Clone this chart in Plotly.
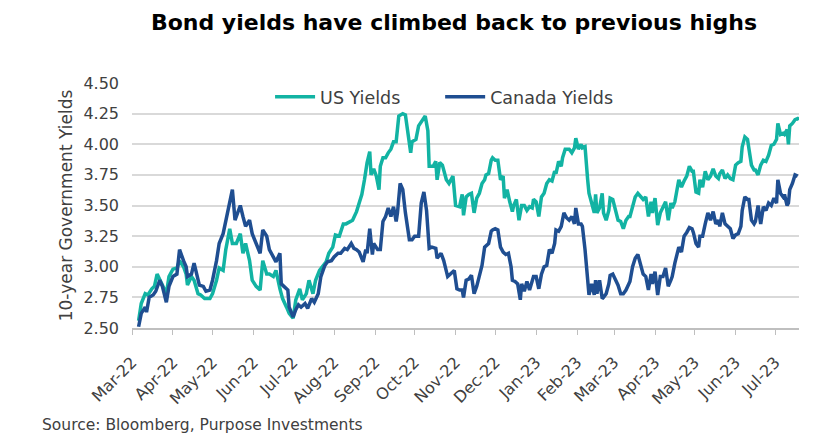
import pandas as pd
import plotly.graph_objects as go

# Day offsets counted from the first day of the axis (1 Mar 2022), values in %
start_date = pd.Timestamp("2022-03-01")

us_days = [5, 7, 10, 12, 15, 17, 19, 21, 23, 26, 28, 31, 34, 36, 39, 41, 42, 45, 47, 50,
           52, 55, 59, 61, 64, 66, 69, 71, 74, 76, 79, 82,
           84, 86, 89, 91, 94, 97, 99, 102, 104, 107, 109, 112, 114, 117, 119, 122, 124, 127,
           129, 132, 134, 137, 139, 142, 144, 147, 149, 152, 154, 157, 160, 162,
           167, 170, 172, 174, 176, 178, 180, 181, 183, 185, 187, 188, 190, 192, 194, 196,
           198, 200, 202, 205, 207, 209, 211, 212, 215, 217, 220, 222, 224, 225, 228, 230,
           231, 233, 235, 238, 240, 243, 245,
           248, 250, 251, 253, 255, 257, 259, 261, 263, 265, 267, 268, 270, 272, 273, 275,
           277, 279, 281, 282, 284, 286, 288, 289, 291, 293, 295, 297, 299, 301, 303, 304,
           306, 308, 310, 312, 314, 316, 318, 320, 321, 323, 325, 326, 328,
           331, 333, 335, 336, 338, 340, 341, 343, 345, 346, 348, 350, 351, 352, 354, 356,
           357, 359, 361, 362, 364, 366, 368, 370, 372, 374, 376, 377, 379, 381, 383, 385,
           387, 389, 391, 393, 394, 396, 398, 400, 402, 404, 406, 408, 409, 411,
           414, 416, 418, 420, 422, 424, 425, 427, 429, 430, 432, 434, 436, 438, 440, 442,
           444, 445, 447, 449, 451, 453, 455, 457, 459, 461, 462, 464, 466, 467, 469, 471,
           472, 474, 476, 478, 480, 482, 484, 486, 488, 489, 491, 493, 494, 496, 497, 498,
           500, 502, 504, 505]
us_yields = [2.56, 2.70, 2.78, 2.77, 2.82, 2.84, 2.94, 2.90, 2.85, 2.78, 2.92, 2.98, 2.99, 3.05, 3.00, 2.94, 2.85, 2.92, 2.89, 2.78,
             2.77, 2.74, 2.74, 2.78, 2.89, 2.99, 2.97, 3.14, 3.31, 3.19, 3.19, 3.27,
             3.11, 3.19, 3.05, 2.89, 2.84, 2.81, 3.05, 2.94, 2.94, 2.92, 2.97, 2.82, 2.74, 2.67, 2.62, 2.58, 2.73, 2.82,
             2.73, 2.78, 2.89, 2.78, 2.89, 2.97, 3.00, 3.04, 3.11, 3.16, 3.26, 3.25, 3.35, 3.35,
             3.38, 3.45, 3.52, 3.59, 3.71, 3.85, 3.94, 3.75, 3.80, 3.74, 3.63, 3.82, 3.89, 3.89, 3.93, 3.96,
             4.02, 4.02, 4.23, 4.25, 4.24, 4.09, 3.93, 4.02, 4.04, 4.15, 4.20, 4.23, 4.11, 3.82, 3.82, 3.86,
             3.71, 3.85, 3.83, 3.71, 3.68, 3.74, 3.50,
             3.49, 3.59, 3.42, 3.57, 3.59, 3.60, 3.44, 3.56, 3.60, 3.68, 3.71, 3.75, 3.76, 3.87, 3.89, 3.87,
             3.87, 3.71, 3.74, 3.56, 3.63, 3.53, 3.45, 3.50, 3.55, 3.38, 3.50, 3.50, 3.46, 3.49, 3.48, 3.55,
             3.53, 3.41, 3.57, 3.60, 3.68, 3.71, 3.70, 3.78, 3.76, 3.86, 3.82, 3.89, 3.96,
             3.96, 3.93, 3.97, 4.05, 3.96, 4.00, 3.97, 3.98, 3.71, 3.60, 3.52, 3.44, 3.59, 3.44, 3.48, 3.60,
             3.44, 3.38, 3.46, 3.56, 3.55, 3.45, 3.38, 3.37, 3.31, 3.38, 3.41, 3.41, 3.48, 3.57, 3.60, 3.57,
             3.55, 3.57, 3.41, 3.53, 3.44, 3.56, 3.34, 3.44, 3.48, 3.53, 3.38, 3.52, 3.48, 3.53,
             3.71, 3.65, 3.70, 3.74, 3.82, 3.78, 3.78, 3.61, 3.60, 3.71, 3.65, 3.78, 3.71, 3.74, 3.80, 3.74,
             3.72, 3.76, 3.79, 3.72, 3.75, 3.72, 3.71, 3.83, 3.85, 3.86, 3.98, 4.06, 4.04, 3.98, 3.83, 3.79,
             3.79, 3.75, 3.83, 3.87, 3.86, 3.91, 3.99, 4.00, 4.04, 4.17, 4.08, 4.09, 4.08, 4.12, 4.00, 4.15,
             4.17, 4.20, 4.21, 4.20]

ca_days = [5, 7, 10, 11, 13, 16, 18, 21, 23, 26, 28, 31, 34, 36, 39, 41, 42, 45, 47, 49,
           51, 54, 56, 59, 61, 64, 66, 69, 71, 74, 76, 78, 80, 82,
           84, 86, 89, 91, 94, 97, 99, 102, 104, 107, 109, 112, 113, 115, 118, 119, 122, 124,
           126, 128, 131, 133, 136, 138, 141, 143, 146, 148, 151, 153, 156, 158, 161, 163,
           166, 168,
           170, 172, 175, 177, 178, 180, 182, 183, 186, 188, 190, 192, 194, 196, 198, 200,
           201, 203, 205, 207, 210, 212, 214, 217, 219, 221, 223, 225, 227, 230, 231, 234,
           236, 239, 241, 244, 246,
           248, 250, 251, 253, 255, 257, 259, 261, 263, 265, 267, 268, 270, 272, 273, 275,
           277, 279, 281, 283, 285, 287, 288, 290, 292, 294, 295, 297, 299, 301, 303, 304,
           306, 308, 310, 312, 314, 316, 318, 320, 321, 323, 325, 327, 329,
           331, 333, 335, 336, 338, 340, 341, 343, 345, 346, 348, 350, 351, 352, 354, 356,
           357, 359, 361, 362, 364, 366, 368, 370, 372, 374, 376, 377, 379, 381, 383, 385,
           387, 389, 391, 393, 394, 396, 398, 400, 402, 404, 406, 408, 409, 411,
           414, 416, 418, 420, 422, 424, 425, 427, 429, 430, 432, 434, 436, 438, 440, 442,
           444, 445, 447, 449, 451, 453, 455, 457, 459, 461, 462, 464, 466, 467, 469, 471,
           472, 474, 476, 478, 480, 482, 484, 486, 488, 489, 491, 493, 494, 496, 497, 498,
           500, 502, 504]
ca_yields = [2.51, 2.62, 2.67, 2.63, 2.75, 2.77, 2.80, 2.89, 2.84, 2.71, 2.84, 2.92, 2.94, 3.14, 3.05, 3.00, 2.92, 2.94, 3.03, 2.94,
             2.85, 2.84, 2.80, 2.81, 2.89, 3.05, 3.19, 3.27, 3.38, 3.55, 3.63, 3.38, 3.45, 3.50,
             3.41, 3.33, 3.38, 3.27, 3.19, 3.11, 3.30, 3.25, 3.14, 3.08, 3.04, 3.11, 2.86, 2.84, 2.81, 2.67, 2.59, 2.65,
             2.69, 2.67, 2.70, 2.66, 2.74, 2.71, 2.78, 2.92, 3.01, 3.04, 3.05, 3.08, 3.11, 3.11, 3.15, 3.14,
             3.19, 3.15,
             3.14, 3.12, 3.04, 3.14, 3.11, 3.31, 3.10, 3.19, 3.14, 3.14, 3.37, 3.41, 3.48, 3.41, 3.49, 3.37,
             3.44, 3.68, 3.63, 3.44, 3.22, 3.22, 3.25, 3.25, 3.52, 3.61, 3.46, 3.15, 3.16, 3.15, 3.07, 3.11,
             3.05, 2.92, 2.94, 2.97, 2.82,
             2.81, 2.81, 2.75, 2.89, 2.90, 2.93, 2.78, 2.84, 2.92, 3.01, 3.16, 3.17, 3.19, 3.29, 3.30, 3.31,
             3.30, 3.16, 3.12, 3.10, 3.11, 3.00, 2.89, 2.88, 2.86, 2.73, 2.86, 2.80, 2.88, 2.81, 2.89, 2.92,
             2.92, 2.82, 2.94, 3.00, 3.01, 3.14, 3.11, 3.19, 3.30, 3.29, 3.33, 3.44, 3.40,
             3.38, 3.41, 3.35, 3.48, 3.35, 3.35, 3.33, 3.14, 2.92, 2.77, 2.86, 2.77, 2.89, 2.78, 2.89, 2.74,
             2.75, 2.78, 2.86, 2.93, 2.94, 2.89, 2.85, 2.78, 2.78, 2.81, 2.86, 2.88, 3.00, 3.07, 3.10, 3.01,
             2.94, 2.92, 2.81, 2.94, 2.86, 2.96, 2.77, 2.92, 2.92, 2.99, 2.84, 2.89, 2.92, 3.03,
             3.16, 3.12, 3.25, 3.28, 3.32, 3.31, 3.28, 3.19, 3.16, 3.25, 3.25, 3.35, 3.44, 3.38, 3.45, 3.35,
             3.38, 3.33, 3.44, 3.35, 3.33, 3.31, 3.23, 3.26, 3.27, 3.33, 3.46, 3.57, 3.55, 3.55, 3.38, 3.35,
             3.37, 3.50, 3.35, 3.49, 3.46, 3.52, 3.50, 3.56, 3.52, 3.71, 3.60, 3.57, 3.59, 3.50, 3.52, 3.63,
             3.68, 3.75, 3.74]

us_dates = start_date + pd.to_timedelta(us_days, unit="D")
ca_dates = start_date + pd.to_timedelta(ca_days, unit="D")

font_name = "DejaVu Sans"
text_grey = "#404040"

fig = go.Figure()
fig.add_trace(go.Scatter(x=us_dates, y=us_yields, mode="lines", name="US Yields",
                         line=dict(color="#12b3a3", width=3.5), legend="legend", showlegend=True))
fig.add_trace(go.Scatter(x=ca_dates, y=ca_yields, mode="lines", name="Canada Yields",
                         line=dict(color="#1f4e91", width=3.5), legend="legend2", showlegend=True))

legend_style = dict(orientation="h", xanchor="left", y=0.943, yanchor="middle",
                    bgcolor="rgba(255,255,255,0)", font=dict(size=17.5, color=text_grey),
                    itemwidth=40, visible=True)

fig.update_layout(
    width=827, height=446, showlegend=True,
    paper_bgcolor="white", plot_bgcolor="white",
    margin=dict(l=132, r=28, t=83, b=118, autoexpand=False),
    font=dict(family=font_name, color=text_grey),
    title=dict(text="<b>Bond yields have climbed back to previous highs</b>",
               x=0.549, xanchor="center", y=0.951, yanchor="middle",
               font=dict(size=22, color="black", family=font_name)),
    legend=dict(x=0.207, **legend_style),
    legend2=dict(x=0.462, **legend_style),
    annotations=[dict(text="Source: Bloomberg, Purpose Investments", xref="paper", yref="paper",
                      x=-0.138, xanchor="left", y=-0.396, yanchor="middle", showarrow=False,
                      font=dict(size=15.5, color=text_grey))],
)

fig.update_xaxes(
    type="date", range=["2022-03-01", "2023-07-19"],
    tick0="2022-03-01", dtick="M1", tickformat="%b-%y", tickangle=-45,
    ticks="outside", ticklen=5, tickcolor="#bfbfbf", ticklabelstandoff=12,
    showline=True, linecolor="#bfbfbf", linewidth=1.5,
    showgrid=False, tickfont=dict(size=16, color=text_grey),
)
fig.update_yaxes(
    range=[2.5, 4.5], dtick=0.25, tickformat=".2f",
    showgrid=True, gridcolor="#d9d9d9", gridwidth=1.5, zeroline=False,
    tickfont=dict(size=16, color=text_grey), ticklabelstandoff=12,
    title=dict(text="10-year Government Yields", font=dict(size=17, color=text_grey), standoff=6),
)

# drop the page's default body margin so the figure sits at the window's corner
fig.write_html("out.html", config={"displayModeBar": False},
               post_script="document.body.style.margin='0';")
